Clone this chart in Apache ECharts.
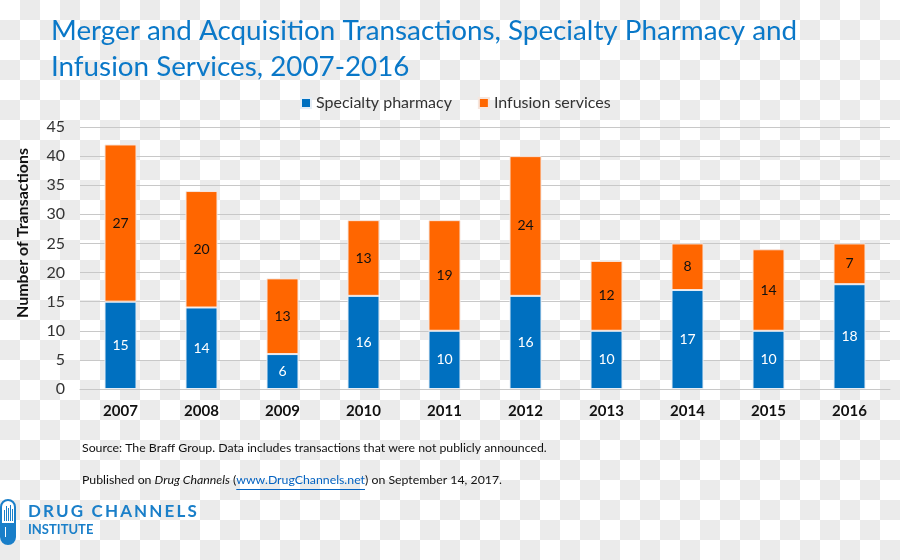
<!DOCTYPE html>
<html>
<head>
<meta charset="utf-8">
<script src="https://cdn.jsdelivr.net/npm/echarts@6/dist/echarts.min.js"></script>
<style>
html,body{margin:0;padding:0;}
body{width:900px;height:560px;background:conic-gradient(#ebebeb 25%, #ffffff 0 50%, #ebebeb 0 75%, #ffffff 0) 0 0/40px 40px;}
#chart{width:900px;height:560px;}
</style>
</head>
<body>
<div id="chart"></div>
<script>
var years = ['2007','2008','2009','2010','2011','2012','2013','2014','2015','2016'];
var specialtyPharmacy = [15, 14, 6, 16, 10, 16, 10, 17, 10, 18];
var infusionServices = [27, 20, 13, 13, 19, 24, 12, 8, 14, 7];
var yTicks = [0, 5, 10, 15, 20, 25, 30, 35, 40, 45];

var FONT = 'Lato';
var SRC_FONT = '12.3px ' + FONT;
// measure text pieces for the link underline
var mctx = document.createElement('canvas').getContext('2d');
function tw(t, f) { mctx.font = f; return mctx.measureText(t).width; }
var pre = 'Published on ', ital = 'Drug Channels', mid = ' (', link = 'www.DrugChannels.net';
var linkX = 82 + tw(pre, SRC_FONT) + tw(ital, 'italic ' + SRC_FONT) + tw(mid, SRC_FONT);
var linkW = tw(link, SRC_FONT);

var TS = '\u2009';
var logoText = ['D','R','U','G'].join(TS) + TS + ' ' + TS + ['C','H','A','N','N','E','L','S'].join(TS);

var chart = echarts.init(document.getElementById('chart'), null, {renderer: 'canvas'});
var option = {
  backgroundColor: 'transparent',
  animation: false,
  textStyle: {fontFamily: FONT},
  title: {
    text: 'Merger and Acquisition Transactions, Specialty Pharmacy and\nInfusion Services, 2007-2016',
    left: 46, top: 8,
    textStyle: {color: '#0a78c8', fontSize: 27.8, fontWeight: 'normal', lineHeight: 36, fontFamily: FONT}
  },
  legend: {
    top: 90, left: 295, itemWidth: 10, itemHeight: 10, itemGap: 26,
    icon: 'rect',
    textStyle: {fontSize: 16, color: '#333', fontFamily: FONT},
    data: ['Specialty pharmacy', 'Infusion services']
  },
  grid: {left: 80, right: 10, top: 127, bottom: 171, containLabel: false},
  xAxis: {
    type: 'category', data: years,
    axisLine: {lineStyle: {color: '#c8c8c8', width: 1}},
    axisTick: {show: false},
    axisLabel: {fontSize: 15, fontWeight: 'bold', color: '#111', margin: 15, fontFamily: FONT}
  },
  yAxis: {
    type: 'value', min: yTicks[0], max: yTicks[yTicks.length - 1], interval: 5,
    axisLine: {show: false}, axisTick: {show: false},
    axisLabel: {fontSize: 16, color: '#333', margin: 15, fontFamily: FONT},
    splitLine: {lineStyle: {color: '#c8c8c8', width: 1}}
  },
  series: [
    {
      name: 'Specialty pharmacy', type: 'bar', stack: 'total', barWidth: 32,
      data: specialtyPharmacy,
      itemStyle: {color: '#0070c0', borderColor: '#e6eef6', borderWidth: 1},
      label: {show: true, position: 'inside', color: '#fff', fontSize: 14, fontFamily: FONT}
    },
    {
      name: 'Infusion services', type: 'bar', stack: 'total', barWidth: 32,
      data: infusionServices,
      itemStyle: {color: '#ff6600', borderColor: '#f6e6de', borderWidth: 1},
      label: {show: true, position: 'inside', color: '#111', fontSize: 14, fontFamily: FONT}
    }
  ],
  graphic: [
    {type: 'text', x: 23, y: 233, rotation: Math.PI / 2, style: {text: 'Number of Transactions', font: 'bold 16px ' + FONT, fill: '#111', align: 'center', verticalAlign: 'middle'}},
    {type: 'text', left: 82, top: 442, style: {text: 'Source: The Braff Group. Data includes transactions that were not publicly announced.', font: SRC_FONT, fill: '#111'}},
    {type: 'text', left: 82, top: 474, style: {
      text: pre + '{i|' + ital + '}' + mid + '{l|' + link + '}) on September 14, 2017.',
      font: SRC_FONT, fill: '#111',
      rich: {i: {fontStyle: 'italic', fontSize: 12.3, fontFamily: FONT, fill: '#111'}, l: {fontSize: 12.3, fontFamily: FONT, fill: '#0563c1'}}
    }},
    {type: 'line', shape: {x1: linkX, y1: 489.5, x2: linkX + linkW, y2: 489.5}, style: {stroke: '#0563c1', lineWidth: 1}},
    // logo capsule
    {type: 'rect', shape: {x: 1, y: 500, width: 14, height: 44, r: 7}, style: {fill: '#fff', stroke: '#1a7fc9', lineWidth: 2}},
    {type: 'rect', shape: {x: 1, y: 523, width: 14, height: 21, r: [0, 0, 7, 7]}, style: {fill: '#1a7fc9'}},
    {type: 'rect', shape: {x: 4, y: 510, width: 1, height: 11}, style: {fill: '#1a7fc9'}},
    {type: 'rect', shape: {x: 6, y: 506, width: 1, height: 15}, style: {fill: '#1a7fc9'}},
    {type: 'rect', shape: {x: 8, y: 508, width: 1, height: 13}, style: {fill: '#1a7fc9'}},
    {type: 'rect', shape: {x: 10, y: 505, width: 1, height: 16}, style: {fill: '#1a7fc9'}},
    {type: 'rect', shape: {x: 12, y: 509, width: 1, height: 12}, style: {fill: '#1a7fc9'}},
    {type: 'rect', shape: {x: 5, y: 527, width: 1, height: 10}, style: {fill: '#fff'}},
    {type: 'text', left: 28, top: 503, style: {text: logoText, font: 'bold 17px ' + FONT, fill: '#1a7fc9'}},
    {type: 'text', left: 28, top: 523, style: {text: 'INSTITUTE', font: 'bold 13px ' + FONT, fill: '#1a7fc9'}}
  ]
};
chart.setOption(option);
</script>
</body>
</html>
